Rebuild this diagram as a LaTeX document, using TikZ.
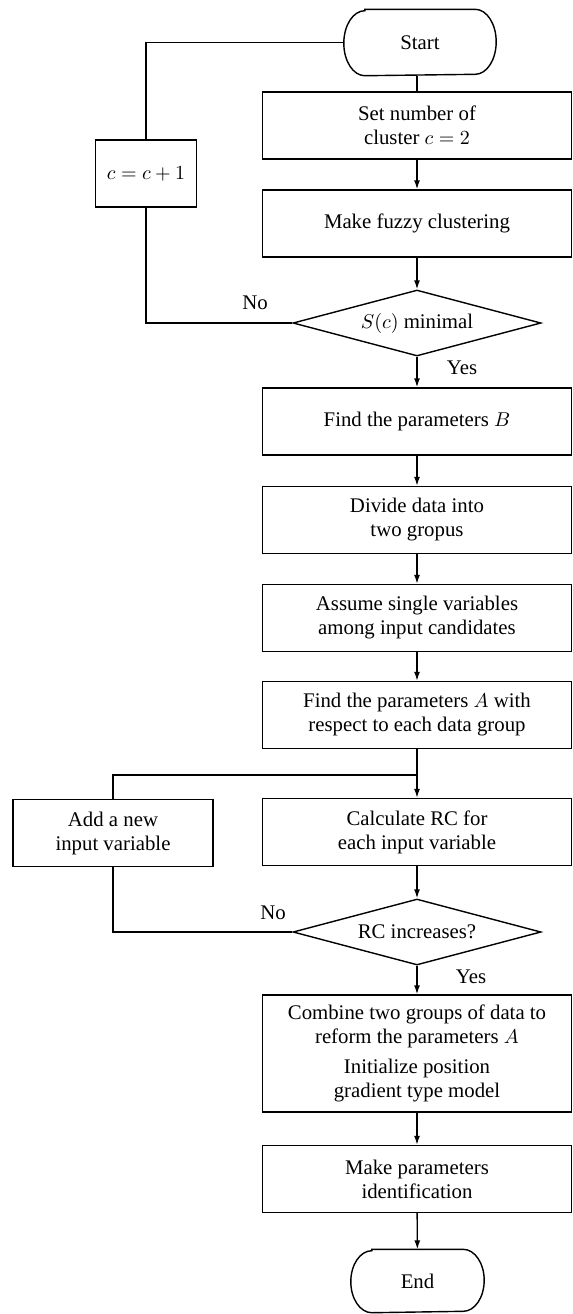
\documentclass[tikz,border=0pt]{standalone}
\usepackage{fontspec}
\setmainfont{Liberation Serif}
\usetikzlibrary{shapes.geometric,arrows.meta}
\begin{document}
\begin{tikzpicture}[x=0.5pt,y=-0.5pt, line width=0.7pt,
  every node/.style={font=\fontsize{10.4}{12}\selectfont},
  box/.style={draw, rectangle, minimum width=154.5pt, minimum height=33.5pt, align=center, inner sep=2pt},
  term/.style={rectangle, minimum width=75.5pt, minimum height=32.5pt},
  dec/.style={draw, diamond, aspect=3.75, minimum width=124pt, minimum height=33pt, inner sep=0pt},
  arr/.style={-{Latex[length=4.5pt,width=3pt]}},
  lab/.style={inner sep=0pt}
]
\useasboundingbox (0,0) rectangle (573,1314);

\node[term] (start) at (420,42.5) {Start};
\node[box] (set) at (417,125.5) {Set number of\\cluster $c=2$};
\node[box] (make) at (417,223.5) {Make fuzzy clustering};
\node[dec] (d1) at (417,323) {$S(c)$ minimal};
\node[box] (findB) at (417,421.5) {Find the parameters $B$};
\node[box] (div) at (417,520) {Divide data into\\two gropus};
\node[box] (assume) at (417,618) {Assume single variables\\among input candidates};
\node[box] (findA) at (417,715) {Find the parameters $A$ with\\respect to each data group};
\node[box] (calc) at (417,832) {Calculate RC for\\each input variable};
\node[dec] (d2) at (417,932) {RC increases?};
\node[box, minimum height=58.5pt] (comb) at (417,1053.5) {Combine two groups of data to\\reform the parameters $A$\\[3pt]Initialize position\\gradient type model};
\node[box] (mp) at (417,1179) {Make parameters\\identification};
\node[term, minimum width=66pt, minimum height=31pt] (end) at (417.5,1281) {End};
\node[box, minimum width=50.5pt] (cinc) at (146,173.5) {$c=c+1$};
\node[box, minimum width=100pt] (add) at (113,833) {Add a new\\input variable};
\coordinate (j) at (417,775);

% terminal outlines with elliptical ends
\draw ([xshift=10.5pt]start.north west) -- ([xshift=-10.5pt]start.north east)
  arc[start angle=90, end angle=-90, x radius=10.5pt, y radius=16.25pt]
  -- ([xshift=10.5pt]start.south west)
  arc[start angle=270, end angle=90, x radius=10.5pt, y radius=16.25pt] -- cycle;
\draw ([xshift=10.5pt]end.north west) -- ([xshift=-10.5pt]end.north east)
  arc[start angle=90, end angle=-90, x radius=10.5pt, y radius=15.5pt]
  -- ([xshift=10.5pt]end.south west)
  arc[start angle=270, end angle=90, x radius=10.5pt, y radius=15.5pt] -- cycle;

\node[lab] (no1) at (255,303) {No};
\node[lab] (yes1) at (462,368) {Yes};
\node[lab] (no2) at (273,913) {No};
\node[lab] (yes2) at (471,977) {Yes};

\draw (start.south -| set.north) -- (set);
\draw[arr] (set) -- (make);
\draw[arr] (make) -- (d1);
\draw[arr] (d1) -- (findB);
\draw[arr] (findB) -- (div);
\draw[arr] (div) -- (assume);
\draw[arr] (assume) -- (findA);
\draw[arr] (findA) -- (calc);
\draw[arr] (calc) -- (d2);
\draw[arr] (d2) -- (comb);
\draw[arr] (comb) -- (mp);
\draw[arr] (mp) -- (end);
\draw (d1.west) -| (cinc.south);
\draw (cinc.north) |- (start.west);
\draw (j) -| (add.north);
\draw (add.south) |- (d2.west);
\end{tikzpicture}
\end{document}
